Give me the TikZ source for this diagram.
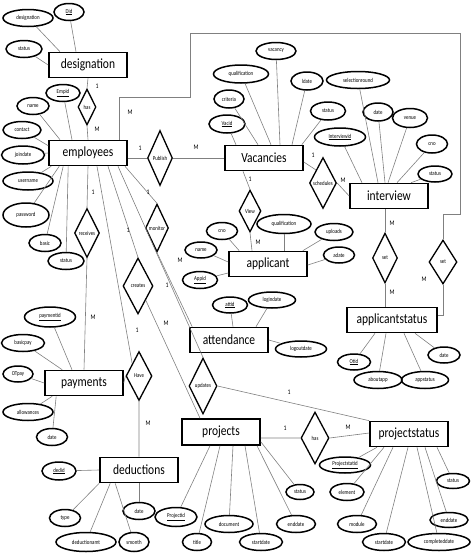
\documentclass[tikz,border=0pt]{standalone}
\usepackage{fontspec}
\setmainfont{Carlito}
\newfontfamily\erfont[FakeStretch=0.82]{Carlito}
\usetikzlibrary{shapes.geometric}

\begin{document}
\begin{tikzpicture}[x=1pt,y=-1pt,
  ent/.style={draw,line width=1.6pt,minimum width=78pt,minimum height=25pt,inner sep=0pt,font=\erfont\fontsize{14}{16}\selectfont},
  attr/.style={ellipse,draw,line width=1.5pt,inner xsep=1pt,inner ysep=0.5pt,minimum width=#1pt,minimum height=17pt,font=\erfont\fontsize{6}{7}\selectfont},
  attr/.default=32,
  rel/.style={diamond,draw,line width=1.3pt,inner sep=0pt,aspect=0.5,minimum width=25pt,minimum height=50pt,font=\erfont\fontsize{6}{7}\selectfont},
  ln/.style={draw=gray,line width=0.6pt},
  card/.style={inner sep=0pt,font=\erfont\fontsize{7}{8}\selectfont}]
  \useasboundingbox (0,0) rectangle (474,555);
  % entities
  \node[ent] (desig) at (88,65) {designation};
  \node[ent] (emp) at (88,153) {employees};
  \node[ent] (vac) at (264,158) {Vacancies};
  \node[ent] (intv) at (389,196) {interview};
  \node[ent] (appl) at (268,264) {applicant};
  \node[ent,minimum width=90pt] (apst) at (392,320) {applicantstatus};
  \node[ent] (attd) at (229,340) {attendance};
  \node[ent] (pay) at (84,383) {payments};
  \node[ent] (ded) at (139,470) {deductions};
  \node[ent,minimum height=26pt] (proj) at (221,432) {projects};
  \node[ent] (pst) at (409,434) {projectstatus};
  % relationships
  \node[rel,minimum width=18pt,minimum height=36pt] (hasdes) at (87,107) {has};
  \node[rel,minimum height=55pt] (pub) at (160,158) {Publish};
  \node[rel,minimum width=27pt,minimum height=51pt] (sched) at (323,183) {schedules};
  \node[rel,minimum width=22pt,minimum height=42pt] (view) at (250,211) {View};
  \node[rel,minimum height=49pt] (recv) at (87,233) {receives};
  \node[rel,minimum width=23pt,minimum height=48pt] (mon) at (157,228) {monitor};
  \node[rel,minimum width=30pt,minimum height=56pt] (cre) at (138,286) {creates};
  \node[rel,minimum width=26pt,minimum height=49pt] (have) at (139,376) {Have};
  \node[rel,minimum width=28pt,minimum height=56pt] (upd) at (203,386) {updates};
  \node[rel,minimum width=28pt,minimum height=52pt] (hasps) at (315,438) {has};
  \node[rel] (setl) at (385,258) {set};
  \node[rel,minimum width=28pt,minimum height=44pt] (setr) at (443,262) {set};
  % attributes of designation and employees
  \node[attr=50] (dname) at (28,18) {designation};
  \node[attr=30] (did) at (69,12) {\underline{Did}};
  \node[attr=36] (dstat) at (24,49) {status};
  \node[attr=34] (empid) at (63,93) {\underline{Empid}};
  \node[attr=32] (ename) at (33,106) {name};
  \node[attr=38] (econt) at (22,130) {contact};
  \node[attr=43,minimum height=18pt] (ejoin) at (23,155) {joindate};
  \node[attr=50,minimum height=18pt] (euser) at (28,181) {username};
  \node[attr=46,minimum height=24pt] (epass) at (26,215) {password};
  \node[attr=32] (ebasic) at (45,243) {basic};
  \node[attr=36] (estat) at (66,261) {status};
  % attributes of vacancies and interview
  \node[attr=36,minimum height=18pt] (vacid) at (227,124) {\underline{Vacid}};
  \node[attr=30,minimum height=18pt] (vcrit) at (229,99) {criteria};
  \node[attr=55,minimum height=18pt] (vqual) at (241,74) {qualification};
  \node[attr=40] (vcount) at (276,51) {vacancy};
  \node[attr=32,minimum height=18pt] (vldate) at (307,81) {ldate};
  \node[attr=35,minimum height=18pt] (vstat) at (328,111) {status};
  \node[attr=51,minimum height=18pt] (intid) at (340,137) {\underline{Interviewid}};
  \node[attr=63] (isel) at (358,80) {selectionround};
  \node[attr=30,minimum height=18pt] (idate) at (378,112) {date};
  \node[attr=35,minimum height=19pt] (ivenue) at (410,118) {venue};
  \node[attr=31,minimum height=18pt] (icno) at (432,144) {cno};
  \node[attr=34,minimum height=16pt] (istat) at (435,174) {status};
  % attributes of applicant, applicantstatus, attendance
  \node[attr=31] (acno) at (222,231) {cno};
  \node[attr=54,minimum height=19pt] (aqual) at (284,224) {qualification};
  \node[attr=38] (aupl) at (334,232) {uploads};
  \node[attr=31,minimum height=16pt] (adate) at (339,255) {adate};
  \node[attr=32,minimum height=16pt] (aname) at (201,250) {name};
  \node[attr=35] (appid) at (200,280) {\underline{Appid}};
  \node[attr=33,minimum height=16pt] (otid) at (354,362) {\underline{Otid}};
  \node[attr=48] (about) at (378,380) {aboutapp};
  \node[attr=47] (apstat) at (425,380) {appstatus};
  \node[attr=32,minimum height=16pt] (asdate) at (444,355) {date};
  \node[attr=35,minimum height=16pt] (attid) at (230,305) {\underline{attid}};
  \node[attr=47,minimum height=16pt] (login) at (272,300) {logindate};
  \node[attr=51,minimum height=16pt] (logout) at (301,349) {logoutdate};
  % attributes of payments and deductions
  \node[attr=51,minimum height=20pt] (payid) at (50,317) {\underline{paymentid}};
  \node[attr=43] (bpay) at (23,343) {basicpay};
  \node[attr=30,minimum height=16pt] (otpay) at (18,374) {OTpay};
  \node[attr=50] (allow) at (28,412) {allowances};
  \node[attr=31] (pdate) at (52,437) {date};
  \node[attr=34,minimum height=18pt] (dedid) at (59,471) {\underline{dedid}};
  \node[attr=31] (dtype) at (65,518) {type};
  \node[attr=60,minimum height=19pt] (damt) at (86,542) {deductionamt};
  \node[attr=30,minimum height=19pt] (smonth) at (134,542) {smonth};
  \node[attr=32] (ddate) at (139,511) {date};
  % attributes of projects and projectstatus
  \node[attr=42,minimum height=19pt] (projid) at (176,517) {\underline{Projectid}};
  \node[attr=29] (ptitle) at (197,542) {title};
  \node[attr=48] (pdoc) at (229,524) {document};
  \node[attr=43] (pstart) at (261,542) {startdate};
  \node[attr=39] (pend) at (296,524) {enddate};
  \node[attr=28,minimum height=15pt] (pstat) at (300,492) {status};
  \node[attr=51,minimum height=16pt] (psid) at (345,465) {\underline{Projectstatid}};
  \node[attr=34] (pselem) at (347,492) {element};
  \node[attr=39] (psmod) at (357,524) {module};
  \node[attr=43] (psstart) at (384,542) {startdate};
  \node[attr=62] (pscomp) at (439,542) {completeddate};
  \node[attr=38,minimum height=15pt] (psend) at (449,520) {enddate};
  \node[attr=33,minimum height=15pt] (psstat) at (453,481) {status};
  % corners of the long connector
  \coordinate (lpA) at (119,97); \coordinate (lpB) at (190,97);
  \coordinate (lpC) at (190,33); \coordinate (lpD) at (460,33);
  \coordinate (lpE) at (460,214); \coordinate (lpF) at (443,214);
  \coordinate (lpG) at (443,315);
  % attribute lines
  \draw[ln] (dname) -- ([xshift=-28pt]desig.north); \draw[ln] (did) -- ([xshift=-12pt]desig.north);
  \draw[ln] (dstat) -- (desig.west);
  \draw[ln] (empid) -- ([xshift=-16pt]emp.north); \draw[ln] (ename) -- ([xshift=-28pt]emp.north);
  \draw[ln] (econt) -- ([yshift=-6pt]emp.north west); \draw[ln] (ejoin) -- (emp.west);
  \draw[ln] (euser) -- ([xshift=3pt]emp.south west); \draw[ln] (epass) -- ([xshift=11pt]emp.south west);
  \draw[ln] (ebasic) -- ([xshift=15pt]emp.south west); \draw[ln] (estat) -- ([xshift=20pt]emp.south west);
  \draw[ln] (vacid) -- ([xshift=-28pt]vac.north); \draw[ln] (vcrit) -- ([xshift=-6pt]vac.north);
  \draw[ln] (vqual) -- ([xshift=7pt]vac.north); \draw[ln] (vcount) -- ([xshift=16pt]vac.north);
  \draw[ln] (vldate) -- ([xshift=28pt]vac.north); \draw[ln] (vstat) -- ([xshift=-2pt]vac.north east);
  \draw[ln] (intid) -- ([xshift=-27pt]intv.north); \draw[ln] (isel) -- ([xshift=-11pt]intv.north);
  \draw[ln] (idate) -- ([xshift=-4pt]intv.north); \draw[ln] (ivenue) -- ([xshift=-1pt]intv.north);
  \draw[ln] (icno) -- ([xshift=8pt]intv.north); \draw[ln] (istat) -- ([xshift=22pt]intv.north);
  \draw[ln] (acno) -- ([xshift=11pt]appl.north west); \draw[ln] (aqual) -- ([xshift=16pt]appl.north);
  \draw[ln] (aupl) -- ([xshift=-5pt]appl.north east); \draw[ln] (adate) -- ([yshift=-1pt]appl.east);
  \draw[ln] (aname) -- ([yshift=2pt]appl.west); \draw[ln] (appid) -- ([yshift=-9pt]appl.west);
  \draw[ln] (otid) -- ([xshift=-17pt]apst.south); \draw[ln] (about) -- ([xshift=-6pt]apst.south);
  \draw[ln] (apstat) -- ([xshift=12pt]apst.south); \draw[ln] (asdate) -- ([xshift=23pt]apst.south);
  \draw[ln] (attid) -- ([xshift=4pt]attd.north); \draw[ln] (login) -- ([xshift=27pt]attd.north);
  \draw[ln] (logout) -- (attd.east);
  \draw[ln] (payid) -- ([xshift=-12pt]pay.north); \draw[ln] (bpay) -- ([xshift=18pt]pay.north west);
  \draw[ln] (otpay) -- (pay.west); \draw[ln] (allow) -- ([xshift=8pt]pay.south west);
  \draw[ln] (pdate) -- ([xshift=12pt]pay.south west);
  \draw[ln] (dedid) -- (ded.west); \draw[ln] (dtype) -- (ded.south west);
  \draw[ln] (damt) -- ([xshift=11pt]ded.south west); \draw[ln] (smonth) -- ([xshift=16pt]ded.south west);
  \draw[ln] (ddate) -- (ded.south);
  \draw[ln] (projid) -- ([xshift=-11pt]proj.south); \draw[ln] (ptitle) -- ([xshift=-1pt]proj.south);
  \draw[ln] (pdoc) -- ([xshift=12pt]proj.south); \draw[ln] (pstart) -- ([xshift=24pt]proj.south);
  \draw[ln] (pend) -- ([xshift=36pt]proj.south); \draw[ln] (pstat) -- ([yshift=4pt]proj.south east);
  \draw[ln] (psid) -- ([xshift=-32pt]pst.south); \draw[ln] (pselem) -- ([xshift=-25pt]pst.south);
  \draw[ln] (psmod) -- ([xshift=-16pt]pst.south); \draw[ln] (psstart) -- ([xshift=-1pt]pst.south);
  \draw[ln] (pscomp) -- ([xshift=8pt]pst.south); \draw[ln] (psend) -- ([xshift=16pt]pst.south);
  \draw[ln] (psstat) -- ([xshift=28pt]pst.south);
  % relationship lines
  \draw[ln] (desig.south) -- (hasdes.north) (hasdes.south) -- (emp.north);
  \draw[ln] (pub.west -| emp.east) -- (pub.west) (pub.east) -- (vac.west);
  \draw[ln] ([xshift=31pt]emp.north) -- (lpA) -- (lpB) -- (lpC) -- (lpD) -- (lpE) -- (lpF) -- (setr.north);
  \draw[ln] (setr.south) -- (lpG) -- (lpG -| apst.east);
  \draw[ln] ([yshift=-4pt]vac.east) -- (sched.north west) (sched.east) -- (intv.west);
  \draw[ln] ([xshift=-21pt]vac.south) -- (view.north) (view.south) -- ([xshift=-16pt]appl.north);
  \draw[ln] ([xshift=-4pt]intv.south) -- (setl.north) (setl.south) -- ([xshift=-7pt]apst.north);
  \draw[ln] (emp.south) -- (recv.north) (recv.south) -- (pay.north);
  \draw[ln] ([xshift=37pt]emp.south) -- (mon.north) (mon.south) -- ([xshift=3pt]attd.north west);
  \draw[ln] ([xshift=20pt]emp.south) -- (cre.north) (cre.south east) -- ([xshift=-21pt]proj.north);
  \draw[ln] ([xshift=9pt]emp.south) -- (have.north west) (have.south) -- (ded.north) (pay.east) -- (have.west);
  \draw[ln] ([xshift=30pt]emp.south) -- (upd.north) (upd.east) -- (pst.north west);
  \draw[ln] (hasps.west -| proj.east) -- (hasps.west) (hasps.east) -- ([yshift=1pt]pst.west);
  % cardinalities
  \node[card] (k1) at (97,86) {1}; \node[card] (k2) at (97,129) {M};
  \node[card] (k3) at (140,148) {1}; \node[card] (k4) at (196,147) {M};
  \node[card] (k5) at (130,112) {M}; \node[card] (k6) at (424,279) {M};
  \node[card] (k7) at (313,155) {1}; \node[card] (k8) at (343,180) {M};
  \node[card] (k9) at (250,179) {1}; \node[card] (k10) at (258,242) {M};
  \node[card] (k11) at (392,223) {M}; \node[card] (k12) at (392,292) {M};
  \node[card] (k13) at (148,192) {1}; \node[card] (k14) at (180,260) {M};
  \node[card] (k15) at (93,192) {1}; \node[card] (k16) at (93,317) {M};
  \node[card] (k17) at (128,230) {1}; \node[card] (k18) at (166,323) {M};
  \node[card] (k19) at (137,330) {1}; \node[card] (k20) at (148,423) {M};
  \node[card] (k21) at (167,285) {1}; \node[card] (k22) at (289,392) {1};
  \node[card] (k23) at (285,428) {1}; \node[card] (k24) at (348,427) {M};
\end{tikzpicture}
\end{document}
